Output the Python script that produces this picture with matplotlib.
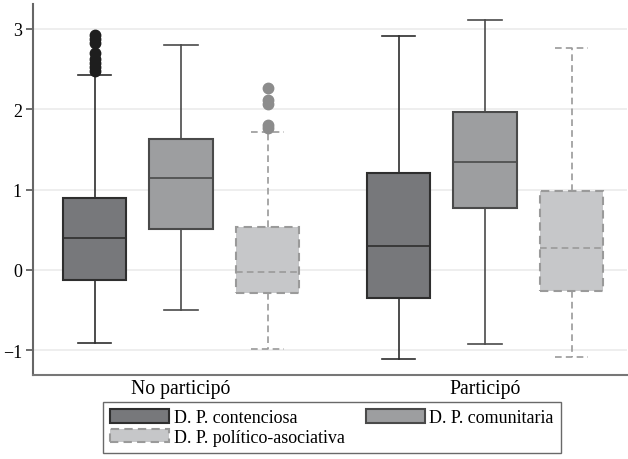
import matplotlib
matplotlib.use("Agg")
import matplotlib.pyplot as plt
from matplotlib.patches import Patch

plt.rcParams['font.family'] = ['Liberation Serif', 'DejaVu Serif']

groups = ['No participó', 'Participó']
series = ['D. P. contenciosa', 'D. P. comunitaria', 'D. P. político-asociativa']

# box statistics per series, one entry per group
whislo = [[-0.91, -1.11], [-0.50, -0.925], [-0.98, -1.08]]
q1 = [[-0.125, -0.345], [0.507, 0.765], [-0.29, -0.265]]
med = [[0.40, 0.30], [1.14, 1.34], [-0.025, 0.266]]
q3 = [[0.90, 1.20], [1.63, 1.97], [0.53, 0.985]]
whishi = [[2.43, 2.91], [2.80, 3.11], [1.71, 2.765]]
fliers = [
    [[2.47, 2.52, 2.57, 2.63, 2.70, 2.82, 2.87, 2.93], []],
    [[], []],
    [[1.77, 1.80, 2.06, 2.12, 2.27], []],
]

fills = ['#77787b', '#9d9ea0', '#c6c7c9']
edges = ['#2e2e2e', '#4a4a4a', '#9a9a9a']
flier_colors = ['#1e1e1e', None, '#8c8c8c']
styles = ['-', '-', (0, (4, 2.5))]

fig = plt.figure(figsize=(6.28, 4.60), dpi=100)
ax = fig.add_axes([33 / 628, 1 - 376 / 460, 594 / 628, 371 / 460])

offsets = [-0.2845, 0.0, 0.2845]
for i in range(len(series)):
    stats = []
    for g in range(len(groups)):
        stats.append(dict(whislo=whislo[i][g], q1=q1[i][g], med=med[i][g],
                          q3=q3[i][g], whishi=whishi[i][g], fliers=fliers[i][g]))
    pos = [g + offsets[i] for g in range(len(groups))]
    ls = styles[i]
    ax.bxp(stats, positions=pos, widths=0.21, patch_artist=True,
           showfliers=True,
           boxprops=dict(facecolor=fills[i], edgecolor=edges[i], linewidth=1.5, linestyle=ls),
           medianprops=dict(color=edges[i], linewidth=1.2, linestyle=ls),
           whiskerprops=dict(color=edges[i], linewidth=1.2, linestyle=ls),
           capprops=dict(color=edges[i], linewidth=1.2, linestyle=ls),
           capwidths=0.11,
           flierprops=dict(marker='o', markersize=7.5,
                           markerfacecolor=flier_colors[i] or edges[i],
                           markeredgecolor=flier_colors[i] or edges[i]),
           zorder=3)

ax.set_xlim(-0.487, 1.467)
ax.set_ylim(-1.31, 3.31)
ax.set_yticks([-1, 0, 1, 2, 3])
ax.set_yticklabels(['\u22121', '0', '1', '2', '3'])
ax.set_xticks([0, 1])
ax.set_xticklabels(groups)
ax.tick_params(axis='y', length=5, width=1.2, color='#555555', labelsize=13, pad=3)
ax.tick_params(axis='x', length=0, labelsize=14.2, pad=3)
ax.grid(axis='y', color='#ebebeb', linewidth=1.2, zorder=0)
ax.set_axisbelow(True)
for side in ['top', 'right']:
    ax.spines[side].set_visible(False)
ax.spines['left'].set_color('#666666')
ax.spines['left'].set_linewidth(1.5)
ax.spines['bottom'].set_color('#777777')
ax.spines['bottom'].set_linewidth(1.5)

handles = [Patch(facecolor=fills[i], edgecolor=edges[i], linewidth=1.5,
                 linestyle=styles[i], label=series[i]) for i in range(len(series))]
# two columns filled column-first: reorder so rows read left to right
order = [0, 2, 1]
leg = fig.legend([handles[k] for k in order], [series[k] for k in order],
                 ncol=2, loc='upper center', bbox_to_anchor=(332 / 628, 1 - 403 / 460),
                 borderaxespad=0, fancybox=False, edgecolor='#444444',
                 fontsize=13, handlelength=3.25, handleheight=0.8,
                 handletextpad=0.25, columnspacing=1.2, labelspacing=0.12,
                 borderpad=0.4)
leg.get_frame().set_linewidth(1.0)

fig.savefig('out.png', dpi=100)
